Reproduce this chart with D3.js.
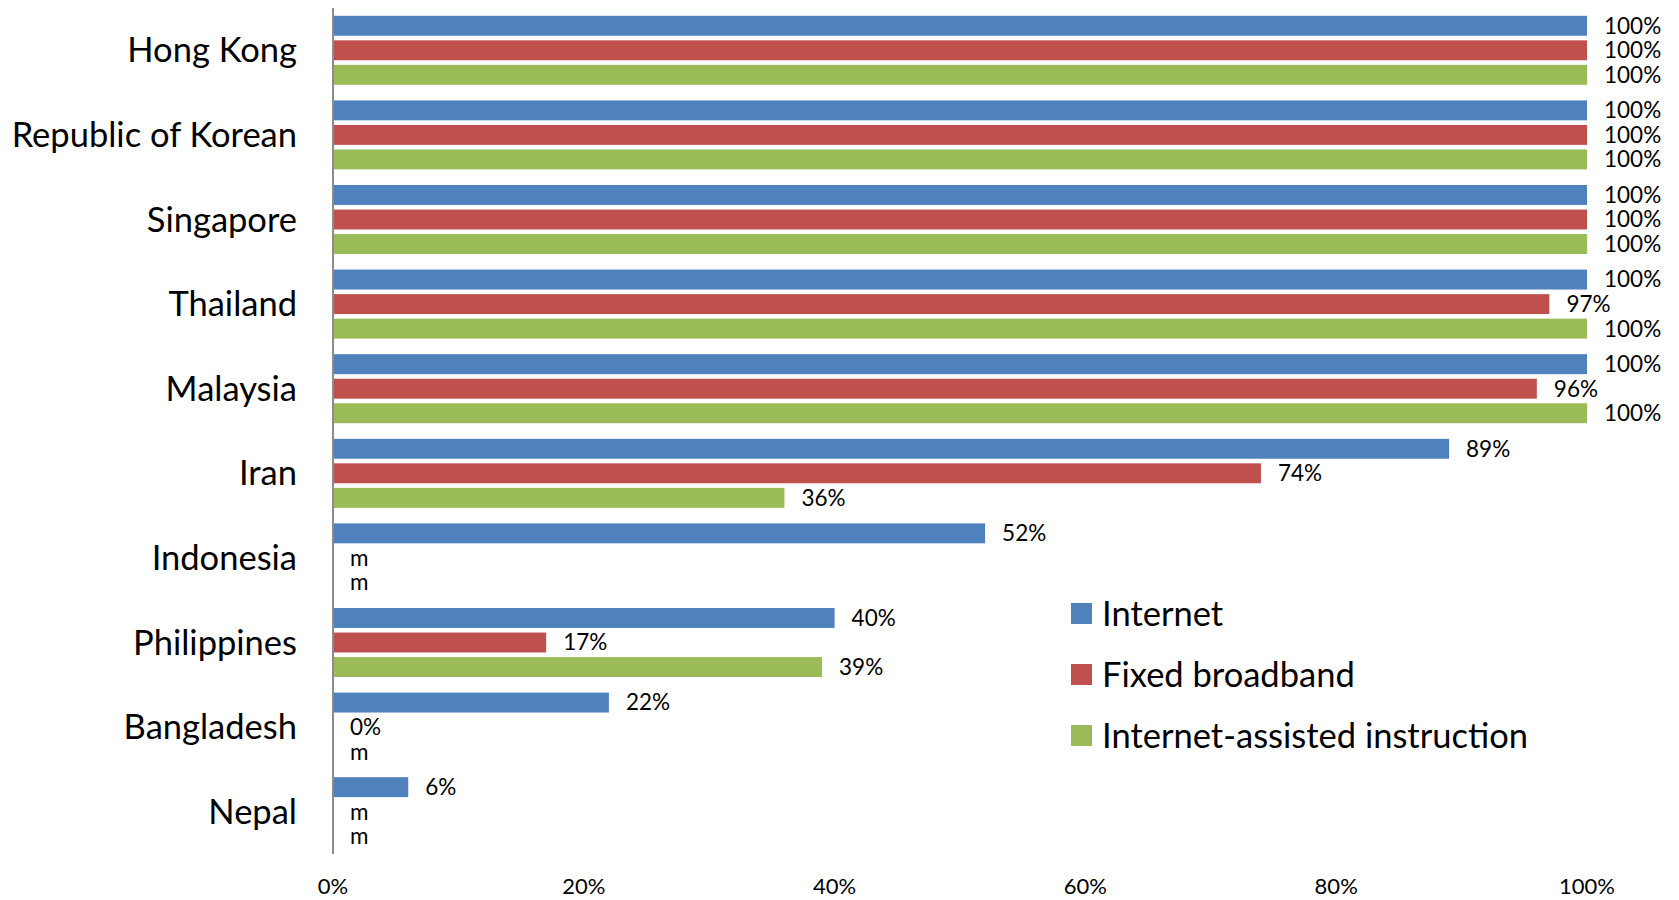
<!DOCTYPE html>
<html>
<head>
<meta charset="utf-8">
<script src="https://cdn.jsdelivr.net/npm/d3@7"></script>
<style>
  body { margin: 0; background: #fff; }
  text { font-family: Lato, "Open Sans", sans-serif; fill: #000; }
</style>
</head>
<body>
<div class="view"></div>
<script>
var countries = ["Hong Kong", "Republic of Korean", "Singapore", "Thailand", "Malaysia",
  "Iran", "Indonesia", "Philippines", "Bangladesh", "Nepal"];
var seriesNames = ["Internet", "Fixed broadband", "Internet-assisted instruction"];
var seriesColors = ["#4F81BD", "#C0504D", "#9BBB59"];
// null = missing ("m")
var internet = [100, 100, 100, 100, 100, 89, 52, 40, 22, 6];
var broadband = [100, 100, 100, 97, 96, 74, null, 17, 0, null];
var instruction = [100, 100, 100, 100, 100, 36, null, 39, null, null];
var xTicks = [0, 20, 40, 60, 80, 100];

var seriesValues = [internet, broadband, instruction];
var data = [];
countries.forEach(function(c, i) {
  seriesNames.forEach(function(s, j) {
    data.push({ country: c, series: s, idx: j, value: seriesValues[j][i] });
  });
});

var width = 1679;
var height = 900;

var svg = d3.select('.view')
  .append('svg')
  .attr('width', width)
  .attr('height', height);

var x = d3.scaleLinear()
  .domain([0, 100])
  .range([333, 1587]);

var y0 = d3.scaleBand()
  .domain(countries)
  .range([8, 854])
  .paddingInner(0.13)
  .paddingOuter(0.065);

var y1 = d3.scaleBand()
  .domain(seriesNames)
  .range([0, y0.bandwidth()]);

var inset = 2.3;

svg.selectAll(".bar")
  .data(data.filter(function(d) { return d.value !== null; }))
  .enter()
  .append("rect")
  .attr("class", "bar")
  .attr("x", x(0))
  .attr("y", function(d) { return y0(d.country) + y1(d.series) + inset; })
  .attr("width", function(d) { return x(d.value) - x(0); })
  .attr("height", y1.bandwidth() - 2 * inset)
  .attr("fill", function(d) { return seriesColors[d.idx]; });

// data labels
svg.selectAll(".lbl")
  .data(data)
  .enter()
  .append("text")
  .attr("class", "lbl")
  .attr("x", function(d) { return x(d.value === null ? 0 : d.value) + 17; })
  .attr("y", function(d) { return y0(d.country) + y1(d.series) + y1.bandwidth() / 2; })
  .attr("dy", "0.35em")
  .style("font-size", "22.5px")
  .text(function(d) { return d.value === null ? "m" : d.value + "%"; });

// category axis
svg.append("line")
  .attr("x1", x(0)).attr("x2", x(0))
  .attr("y1", 8).attr("y2", 854)
  .attr("stroke", "#8c8c8c")
  .attr("stroke-width", 2);

svg.selectAll(".cat")
  .data(countries)
  .enter()
  .append("text")
  .attr("class", "cat")
  .attr("x", 297)
  .attr("y", function(d) { return y0(d) + y0.bandwidth() / 2; })
  .attr("dy", "0.35em")
  .attr("text-anchor", "end")
  .style("font-size", "34.5px")
  .text(function(d) { return d; });

// x tick labels
svg.selectAll(".tick-lbl")
  .data(xTicks)
  .enter()
  .append("text")
  .attr("class", "tick-lbl")
  .attr("x", function(d) { return x(d); })
  .attr("y", 886)
  .attr("dy", "0.35em")
  .attr("text-anchor", "middle")
  .style("font-size", "22px")
  .text(function(d) { return d + "%"; });

// legend
var legend = svg.selectAll(".legend")
  .data(seriesNames)
  .enter()
  .append("g")
  .attr("class", "legend")
  .attr("transform", function(d, i) { return "translate(1071," + (603 + i * 61) + ")"; });

legend.append("rect")
  .attr("width", 21)
  .attr("height", 21)
  .attr("fill", function(d, i) { return seriesColors[i]; });

legend.append("text")
  .attr("x", 31)
  .attr("y", 10.5)
  .attr("dy", "0.35em")
  .style("font-size", "34.5px")
  .text(function(d) { return d; });
</script>
</body>
</html>
